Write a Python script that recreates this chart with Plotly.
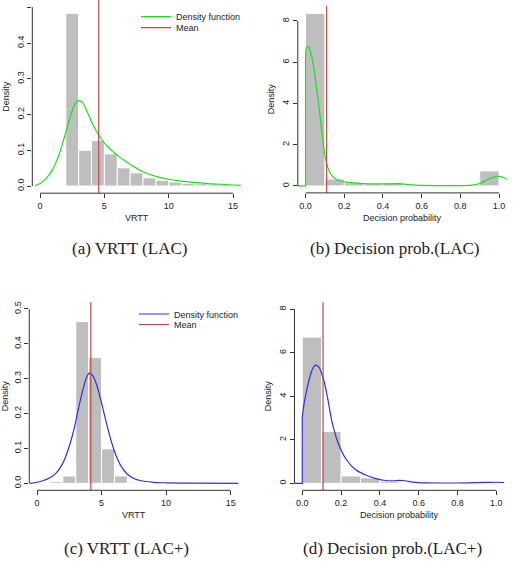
import plotly.graph_objects as go

# ---------------- data ----------------
# (a) VRTT (LAC)
vrtt_lac_edges = [2, 3, 4, 5, 6, 7, 8, 9, 10, 11, 12, 13, 14]
vrtt_lac_hist = [0.483, 0.100, 0.127, 0.090, 0.051, 0.037, 0.023, 0.016, 0.011, 0.008, 0.0065, 0.005]
vrtt_lac_dens_x = [-0.4, 0, 0.5, 1.0, 1.5, 2.0, 2.4, 2.7, 3.0, 3.3, 3.7, 4.2, 4.7, 5.2, 5.8, 6.5,
                   7.2, 8.0, 9.0, 10.0, 11.0, 12.0, 13.0, 14.0, 15.0, 15.7]
vrtt_lac_dens_y = [0.0, 0.007, 0.022, 0.048, 0.09, 0.15, 0.20, 0.228, 0.239, 0.234, 0.205, 0.165,
                   0.135, 0.112, 0.092, 0.073, 0.056, 0.040, 0.027, 0.019, 0.014, 0.010, 0.007,
                   0.005, 0.003, 0.002]
vrtt_lac_mean = 4.56

# (b) Decision prob. (LAC)
prob_lac_edges = [0.0, 0.1, 0.2, 0.3, 0.4, 0.5, 0.6, 0.7, 0.8, 0.9, 1.0]
prob_lac_hist = [8.37, 0.34, 0.16, 0.11, 0.15, 0.0, 0.0, 0.0, 0.0, 0.73]
prob_lac_dens_x = [-0.045, 0.0, 0.0, 0.005, 0.012, 0.025, 0.04, 0.055, 0.07, 0.085, 0.1, 0.115,
                   0.13, 0.15, 0.18, 0.22, 0.28, 0.35, 0.42, 0.48, 0.53, 0.6, 0.7, 0.8, 0.86,
                   0.9, 0.94, 0.97, 1.0, 1.02, 1.045]
prob_lac_dens_y = [0.0, 0.0, 6.3, 6.72, 6.78, 6.5, 5.9, 4.9, 3.8, 2.6, 1.5, 0.9, 0.58, 0.38,
                   0.24, 0.17, 0.13, 0.1, 0.1, 0.11, 0.07, 0.03, 0.02, 0.02, 0.04, 0.12, 0.3,
                   0.42, 0.47, 0.42, 0.3]
prob_lac_mean = 0.109

# (c) VRTT (LAC+)
vrtt_plus_edges = [0, 1, 2, 3, 4, 5, 6, 7, 8]
vrtt_plus_hist = [0.002, 0.005, 0.021, 0.464, 0.361, 0.099, 0.021, 0.003]
vrtt_plus_dens_x = [-0.55, 0, 0.5, 1.0, 1.5, 2.0, 2.4, 2.8, 3.2, 3.5, 3.8, 4.05, 4.3, 4.6, 4.9,
                    5.2, 5.5, 5.8, 6.1, 6.5, 7.0, 7.5, 8.0, 9.0, 10.0, 12.0, 15.6]
vrtt_plus_dens_y = [0.0, 0.003, 0.008, 0.016, 0.03, 0.058, 0.095, 0.145, 0.212, 0.26, 0.3, 0.316,
                    0.31, 0.285, 0.245, 0.2, 0.155, 0.115, 0.082, 0.05, 0.026, 0.014, 0.008,
                    0.003, 0.0015, 0.0005, 0.0]
vrtt_plus_mean = 4.17

# (d) Decision prob. (LAC+)
prob_plus_edges = [0.0, 0.1, 0.2, 0.3, 0.4, 0.5]
prob_plus_hist = [6.72, 2.38, 0.34, 0.25, 0.1]
prob_plus_dens_x = [-0.045, 0.0, 0.0, 0.01, 0.02, 0.035, 0.05, 0.068, 0.085, 0.1, 0.115, 0.13,
                    0.155, 0.19, 0.225, 0.275, 0.33, 0.38, 0.43, 0.47, 0.5, 0.53, 0.57, 0.64,
                    0.75, 0.85, 0.95, 1.0, 1.045]
prob_plus_dens_y = [0.0, 0.0, 3.05, 3.7, 4.15, 4.75, 5.2, 5.43, 5.35, 5.05, 4.6, 3.95, 2.76,
                    1.74, 1.12, 0.62, 0.37, 0.22, 0.13, 0.12, 0.14, 0.12, 0.06, 0.02, 0.015,
                    0.02, 0.04, 0.05, 0.03]
prob_plus_mean = 0.107

vrtt_xticks = [0, 5, 10, 15]
vrtt_yticks = [0.0, 0.1, 0.2, 0.3, 0.4, 0.5]
prob_xticks = [0.0, 0.2, 0.4, 0.6, 0.8, 1.0]
prob_yticks = [0, 2, 4, 6, 8]

captions = ["(a) VRTT (LAC)", "(b) Decision prob.(LAC)", "(c) VRTT (LAC+)", "(d) Decision prob.(LAC+)"]

# ---------------- layout constants ----------------
W, H = 519, 564
FONT = "Liberation Sans"
GREEN = "#18E018"
BLUE = "#3030E0"
RED = "#C04848"
BAR = "#BEBEBE"
AX = "#333333"


def px_x(a, b):
    return [a / W, b / W]


def px_y(top, bottom):
    return [1 - bottom / H, 1 - top / H]


panels = [
    dict(edges=vrtt_lac_edges, hist=vrtt_lac_hist, dx=vrtt_lac_dens_x, dy=vrtt_lac_dens_y,
         mean=vrtt_lac_mean, color=GREEN, xt=vrtt_xticks, yt=vrtt_yticks, xr=[-0.6, 15.6],
         yr=[-0.02, 0.52], xd=px_x(32.3, 240.8), yd=px_y(0.1, 193.2), xtitle="VRTT",
         yfmt=".1f", legend=True, split=False, cap=(129.5, 248.3), xt_y=218, yt_x=6),
    dict(edges=prob_lac_edges, hist=prob_lac_hist, dx=prob_lac_dens_x, dy=prob_lac_dens_y,
         mean=prob_lac_mean, color=GREEN, xt=prob_xticks, yt=prob_yticks, xr=[-0.04, 1.04],
         yr=[-0.336, 8.736], xd=px_x(297.8, 506.8), yd=px_y(5.8, 192.9),
         xtitle="Decision probability", yfmt="d", legend=False, split=True, cap=(395, 248.3),
         xt_y=218, yt_x=271),
    dict(edges=vrtt_plus_edges, hist=vrtt_plus_hist, dx=vrtt_plus_dens_x, dy=vrtt_plus_dens_y,
         mean=vrtt_plus_mean, color=BLUE, xt=vrtt_xticks, yt=vrtt_yticks, xr=[-0.6, 15.6],
         yr=[-0.02, 0.52], xd=px_x(29.25, 238.4), yd=px_y(302.0, 490.3), xtitle="VRTT",
         yfmt=".1f", legend=True, split=False, cap=(126, 548), xt_y=515, yt_x=5),
    dict(edges=prob_plus_edges, hist=prob_plus_hist, dx=prob_plus_dens_x, dy=prob_plus_dens_y,
         mean=prob_plus_mean, color=BLUE, xt=prob_xticks, yt=prob_yticks, xr=[-0.04, 1.04],
         yr=[-0.32, 8.32], xd=px_x(294.5, 504.1), yd=px_y(302.3, 490.3),
         xtitle="Decision probability", yfmt="d", legend=False, split=True, cap=(392, 548),
         xt_y=515, yt_x=268),
]

# legend positions (px) for panels a and c: (left x, row1 y, row2 y)
legend_pos = {0: (136, 16.7, 27.7), 2: (134, 314, 324.5)}

fig = go.Figure()
shapes = []
annotations = []
layout = dict(width=W, height=H, margin=dict(l=0, r=0, t=0, b=0),
              paper_bgcolor="white", plot_bgcolor="white", showlegend=True,
              font=dict(family=FONT, size=9, color="#222222"))

legend_counter = 1
for i, p in enumerate(panels):
    n = i + 1
    xa = "x" if n == 1 else f"x{n}"
    ya = "y" if n == 1 else f"y{n}"
    xkey = "xaxis" if n == 1 else f"xaxis{n}"
    ykey = "yaxis" if n == 1 else f"yaxis{n}"

    centers = [(p["edges"][k] + p["edges"][k + 1]) / 2 for k in range(len(p["hist"]))]
    widths = [p["edges"][k + 1] - p["edges"][k] for k in range(len(p["hist"]))]
    fig.add_trace(go.Bar(x=centers, y=p["hist"], width=widths, xaxis=xa, yaxis=ya,
                         marker=dict(color=BAR, line=dict(color="white", width=1)),
                         showlegend=False, hoverinfo="skip"))

    dens_legend = None
    mean_legend = None
    if p["legend"]:
        dens_legend = "legend" if legend_counter == 1 else f"legend{legend_counter}"
        mean_legend = f"legend{legend_counter + 1}"
        lx, r1, r2 = legend_pos[i]
        for key, ry in ((dens_legend, r1), (mean_legend, r2)):
            layout[key] = dict(x=lx / W, y=1 - ry / H, xanchor="left", yanchor="middle",
                               bgcolor="rgba(0,0,0,0)", borderwidth=0, itemwidth=30,
                               font=dict(family=FONT, size=9, color="#222222"))
        legend_counter += 2

    if p["split"]:
        fig.add_trace(go.Scatter(x=p["dx"][:3], y=p["dy"][:3], mode="lines", xaxis=xa, yaxis=ya,
                                 line=dict(color=p["color"], width=1.2), showlegend=False,
                                 hoverinfo="skip"))
        dx, dy = p["dx"][2:], p["dy"][2:]
    else:
        dx, dy = p["dx"], p["dy"]
    fig.add_trace(go.Scatter(x=dx, y=dy, mode="lines", xaxis=xa, yaxis=ya,
                             line=dict(color=p["color"], width=1.2, shape="spline", smoothing=0.8),
                             name="Density function", showlegend=p["legend"],
                             legend=dens_legend if dens_legend else "legend",
                             hoverinfo="skip", cliponaxis=True))

    mean_shape = dict(type="line", xref=xa, yref=f"{ya} domain", x0=p["mean"], x1=p["mean"],
                      y0=0, y1=1, line=dict(color=RED, width=1.2), layer="above")
    if p["legend"]:
        mean_shape.update(showlegend=True, name="Mean", legend=mean_legend)
    shapes.append(mean_shape)

    # R-style axis lines spanning first to last tick
    shapes.append(dict(type="line", xref=xa, yref=f"{ya} domain", x0=p["xt"][0], x1=p["xt"][-1],
                       y0=0, y1=0, line=dict(color=AX, width=1)))
    shapes.append(dict(type="line", xref=f"{xa} domain", yref=ya, x0=0, x1=0,
                       y0=p["yt"][0], y1=p["yt"][-1], line=dict(color=AX, width=1)))

    layout[xkey] = dict(domain=p["xd"], range=p["xr"], anchor=ya, tickvals=p["xt"],
                        tickformat=".1f" if p["yfmt"] == "d" else "d",
                        ticks="outside", ticklen=4, tickwidth=1, tickcolor=AX,
                        showline=False, showgrid=False, zeroline=False,
                        tickfont=dict(family=FONT, size=9, color="#222222"))
    layout[ykey] = dict(domain=p["yd"], range=p["yr"], anchor=xa, tickvals=p["yt"],
                        tickformat=p["yfmt"], tickangle=-90,
                        ticks="outside", ticklen=4, tickwidth=1, tickcolor=AX,
                        showline=False, showgrid=False, zeroline=False,
                        tickfont=dict(family=FONT, size=9, color="#222222"))

    # axis titles
    annotations.append(dict(text=p["xtitle"], xref=f"{xa} domain", x=0.5, yref="paper",
                            y=1 - p["xt_y"] / H, xanchor="center", yanchor="middle",
                            showarrow=False, font=dict(family=FONT, size=9, color="#222222")))
    annotations.append(dict(text="Density", xref="paper", x=p["yt_x"] / W, yref=f"{ya} domain",
                            y=0.5, xanchor="center", yanchor="middle", textangle=-90,
                            showarrow=False, font=dict(family=FONT, size=9, color="#222222")))
    # caption
    annotations.append(dict(text=captions[i], xref="paper", x=p["cap"][0] / W, yref="paper",
                            y=1 - p["cap"][1] / H, xanchor="center", yanchor="middle",
                            showarrow=False,
                            font=dict(family="Liberation Serif", size=17, color="#222222")))

layout["shapes"] = shapes
layout["annotations"] = annotations
fig.update_layout(**layout)
fig.write_html("out.html")
